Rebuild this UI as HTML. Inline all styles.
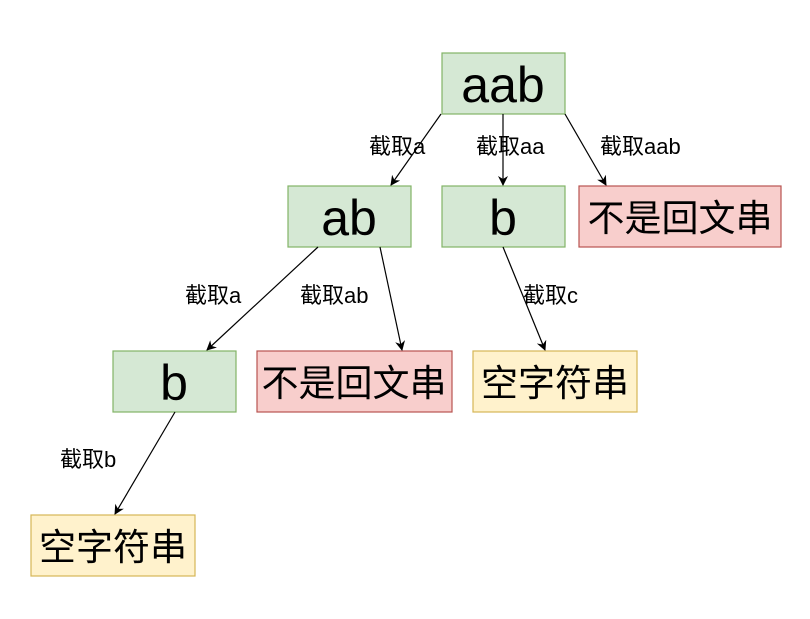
<!DOCTYPE html>
<html><head><meta charset="utf-8"><style>
html,body{margin:0;padding:0;background:#fff;width:810px;height:619px;overflow:hidden}
svg text{font-family:"Liberation Sans","Noto Sans CJK SC",sans-serif}
</style></head><body>
<svg width="810" height="619" viewBox="0 0 810 619" xmlns="http://www.w3.org/2000/svg">
<defs><marker id="a" markerWidth="10" markerHeight="10" refX="9" refY="5" orient="auto" markerUnits="userSpaceOnUse"><path d="M0,0 L10,5 L0,10 L3,5 Z" fill="#000"/></marker></defs>
<g stroke-width="1.2">
<rect x="442" y="53" width="123" height="61" fill="#d5e8d4" stroke="#82b366"/>
<rect x="288" y="186" width="123" height="61" fill="#d5e8d4" stroke="#82b366"/>
<rect x="442" y="186" width="123" height="61" fill="#d5e8d4" stroke="#82b366"/>
<rect x="579" y="186" width="202" height="61" fill="#f8cecc" stroke="#b85450"/>
<rect x="113" y="351" width="123" height="61" fill="#d5e8d4" stroke="#82b366"/>
<rect x="257" y="351" width="195" height="61" fill="#f8cecc" stroke="#b85450"/>
<rect x="473" y="351" width="164" height="61" fill="#fff2cc" stroke="#d6b656"/>
<rect x="31" y="515" width="164" height="61" fill="#fff2cc" stroke="#d6b656"/>
</g>
<g stroke="#000" stroke-width="1.2" marker-end="url(#a)">
<line x1="441" y1="114" x2="391" y2="185"/>
<line x1="503" y1="114" x2="503" y2="185"/>
<line x1="565" y1="114" x2="606" y2="185"/>
<line x1="318" y1="247" x2="207" y2="350"/>
<line x1="380" y1="247" x2="402" y2="350"/>
<line x1="503" y1="247" x2="545" y2="350"/>
<line x1="175" y1="412" x2="115" y2="514"/>
</g>
<g font-size="50" text-anchor="middle" fill="#000">
<text x="503" y="102">aab</text>
<text x="349" y="235">ab</text>
<text x="503" y="235">b</text>
<text x="174" y="400">b</text>
</g>
<g font-size="37" text-anchor="middle" fill="#000">
<text x="680" y="231">不是回文串</text>
<text x="354" y="396">不是回文串</text>
<text x="555" y="396">空字符串</text>
<text x="113" y="560">空字符串</text>
</g>
<g font-size="22" fill="#000">
<text x="369" y="154">截取a</text>
<text x="476" y="154">截取aa</text>
<text x="600" y="154">截取aab</text>
<text x="185" y="303">截取a</text>
<text x="300" y="303">截取ab</text>
<text x="523" y="303">截取c</text>
<text x="60" y="467">截取b</text>
</g>
</svg>
</body></html>
